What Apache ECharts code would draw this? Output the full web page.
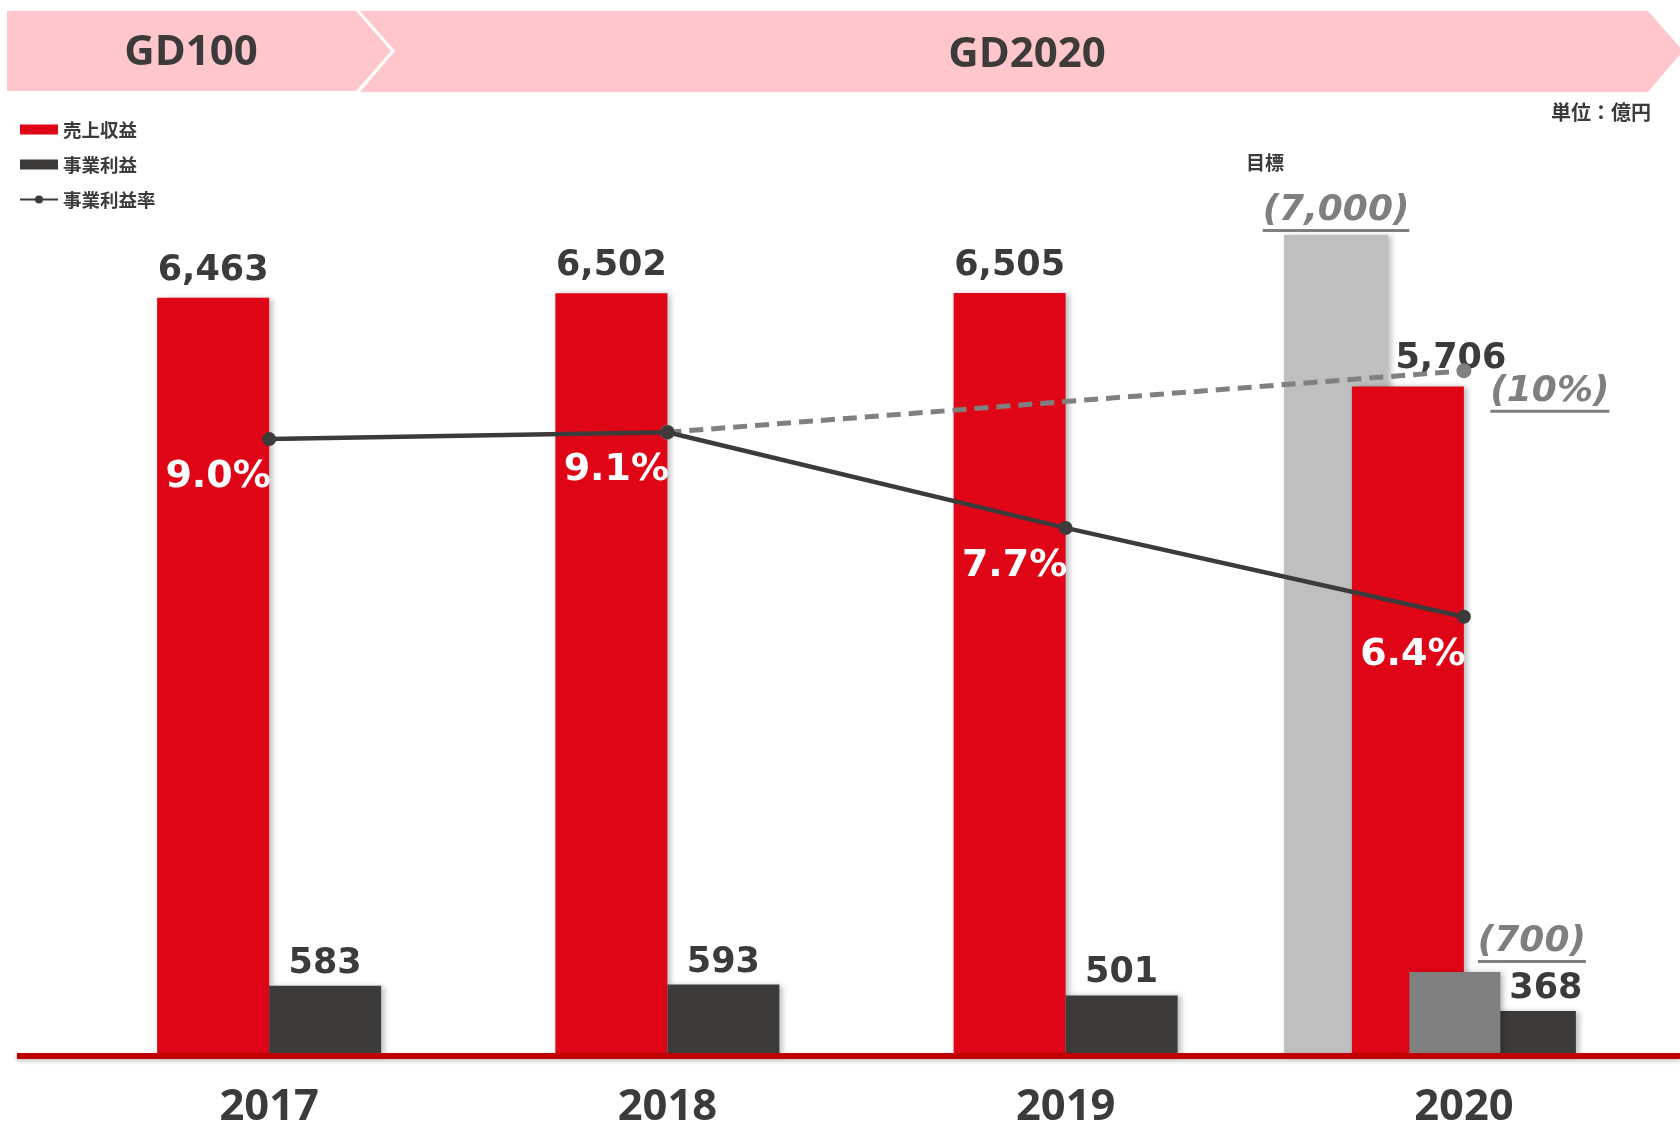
<!DOCTYPE html>
<html><head><meta charset="utf-8">
<script src="https://cdn.jsdelivr.net/npm/echarts@6/dist/echarts.min.js"></script>
<style>html,body{margin:0;padding:0;background:#fff}#c{width:1680px;height:1122px}</style>
</head><body><div id="c"></div>
<script>
// ---- data ----
const categories = ['2017', '2018', '2019', '2020'];
const sales = [6463, 6502, 6505, 5706];          // 売上収益
const profit = [583, 593, 501, 368];             // 事業利益
const profitRate = [9.0, 9.1, 7.7, 6.4];         // 事業利益率 (%)
const salesTarget = [[3, 7000]];                 // 目標 売上収益 (2020)
const profitTarget = [[3, 700]];                 // 目標 事業利益 (2020)
const rateTargetValue = 10;                      // 目標 事業利益率 (2020)
const phases = ['GD100', 'GD2020'];
const unitLabel = '単位：億円';
const targetCaption = '目標';
const seriesNames = ['売上収益', '事業利益', '事業利益率'];

// ---- styles ----
const DARK = '#3d3a3a', RED = '#E00516', GRAY1 = '#BFBFBF', GRAY2 = '#808080', TGRAY = '#7f7f7f';
const numFont = 'DejaVu Sans';
const tFont = 'italic bold 36px "DejaVu Sans"';
const shadow = { shadowBlur: 6, shadowOffsetX: 3, shadowOffsetY: 1, shadowColor: 'rgba(0,0,0,0.28)' };

const mctx = document.createElement('canvas').getContext('2d');
function measure(text, font) { mctx.font = font; return mctx.measureText(text).width; }
const fmt = v => v.toLocaleString('en-US');

function targetBar(cfg) {
  return function (params, api) {
    const i = api.value(0), v = api.value(1);
    const p0 = api.coord([i, 0]), p1 = api.coord([i, v]);
    const band = api.size([1, 0])[0];
    const cx = p0[0] + cfg.dx * band, w = cfg.w * band;
    const text = '(' + fmt(v) + ')';
    const tw = measure(text, tFont);
    const lx = cx + cfg.lx, ly = p1[1] + cfg.ly;
    const children = [
      { type: 'rect', shape: { x: cx - w / 2, y: p1[1], width: w, height: p0[1] - p1[1] },
        style: Object.assign({ fill: cfg.color }, shadow) },
      { type: 'text', style: { text, x: lx, y: ly, align: 'center', verticalAlign: 'middle', font: tFont, fill: TGRAY } },
      { type: 'rect', shape: { x: lx - tw / 2, y: ly + cfg.ul, width: tw, height: 3 }, style: { fill: TGRAY } }
    ];
    if (cfg.caption) {
      children.push({ type: 'text', style: { text: cfg.caption, x: cx + cfg.capX, y: p1[1] + cfg.capY,
        align: 'center', verticalAlign: 'middle', font: 'bold 19px "Noto Sans CJK JP"', fill: DARK } });
    }
    return { type: 'group', children };
  };
}

function rateTargetLabel(params, api) {
  const i = api.value(0), v = api.value(1);
  const p = api.coord([i, v]);
  const text = '(' + v + '%)';
  const tw = measure(text, tFont);
  const lx = p[0] + 86, ly = p[1] + 21;
  return { type: 'group', children: [
    { type: 'text', style: { text, x: lx, y: ly, align: 'center', verticalAlign: 'middle', font: tFont, fill: TGRAY } },
    { type: 'rect', shape: { x: lx - tw / 2, y: ly + 18, width: tw, height: 3 }, style: { fill: TGRAY } }
  ] };
}

const rateTargetLine = categories.map((c, i) => i === 1 ? profitRate[1] : (i === 3 ? rateTargetValue : '-'));

const chart = echarts.init(document.getElementById('c'), null, { renderer: 'canvas' });
chart.setOption({
  animation: false,
  backgroundColor: '#fff',
  grid: { left: 70, right: 17, top: 118, bottom: 68, containLabel: false, outerBoundsMode: 'none' },
  legend: {
    orient: 'vertical', left: 19, top: 119, padding: 0, itemWidth: 38, itemHeight: 10, itemGap: 14,
    selectedMode: false,
    textStyle: { fontFamily: 'Noto Sans CJK JP', fontWeight: 'bold', fontSize: 18.5, color: DARK, lineHeight: 21 },
    data: [{ name: seriesNames[0], icon: 'rect' }, { name: seriesNames[1], icon: 'rect' }, seriesNames[2]]
  },
  xAxis: {
    type: 'category', data: categories,
    axisLine: { show: false }, axisTick: { show: false },
    axisLabel: { margin: 32, fontFamily: 'Open Sans', fontWeight: 'bold', fontSize: 43.5, color: DARK, lineHeight: 44 }
  },
  yAxis: [
    { type: 'value', min: 0, max: 8000, show: false },
    { type: 'value', min: 0, max: 13.7, show: false }
  ],
  graphic: [
    { type: 'polygon', shape: { points: [[7, 11], [356, 11], [391, 51], [356, 91], [7, 91]] }, style: { fill: '#FFC7CC' }, z: 0 },
    { type: 'polygon', shape: { points: [[360, 11], [1648, 11], [1683, 51], [1648, 92], [360, 92], [395, 51]] }, style: { fill: '#FFC7CC' }, z: 0 },
    { type: 'text', x: 191, y: 53, style: { text: phases[0], align: 'center', verticalAlign: 'middle', font: 'bold 42px "Open Sans"', fill: DARK }, z: 1 },
    { type: 'text', x: 1027, y: 55, style: { text: phases[1], align: 'center', verticalAlign: 'middle', font: 'bold 42px "Open Sans"', fill: DARK }, z: 1 },
    { type: 'text', x: 1651, y: 112, style: { text: unitLabel, align: 'right', verticalAlign: 'middle', font: 'bold 20px "Noto Sans CJK JP"', fill: DARK }, z: 1 },
    { type: 'rect', shape: { x: 17, y: 1053, width: 1663, height: 6 },
      style: { fill: '#C00000', shadowBlur: 4, shadowOffsetY: 2, shadowColor: 'rgba(0,0,0,0.25)' }, z: 50 }
  ],
  series: [
    { name: 'target-sales', type: 'custom', data: salesTarget, renderItem: targetBar({
        dx: -0.321, w: 0.261, color: GRAY1, lx: 0, ly: -24, ul: 18, caption: targetCaption, capX: -71, capY: -72 }),
      z: 1, silent: true },
    { name: seriesNames[0], type: 'bar', barWidth: 112, barGap: '0%',
      data: sales.map((v, i) => i === 3 ? { value: v, label: { offset: [43, 0] } } : v),
      itemStyle: Object.assign({ color: RED }, shadow),
      label: { show: true, position: 'top', distance: 7, fontFamily: numFont, fontWeight: 'bold', fontSize: 35,
        lineHeight: 40, color: DARK, formatter: p => fmt(p.value) }, z: 2 },
    { name: seriesNames[1], type: 'bar', barWidth: 112, barGap: '0%',
      data: profit.map((v, i) => i === 3 ? { value: v, label: { offset: [26, 0] } } : v),
      itemStyle: Object.assign({ color: DARK }, shadow),
      label: { show: true, position: 'top', distance: 2, fontFamily: numFont, fontWeight: 'bold', fontSize: 35,
        lineHeight: 40, color: DARK, formatter: p => fmt(p.value) }, z: 2 },
    { name: 'target-profit', type: 'custom', data: profitTarget, renderItem: targetBar({
        dx: -0.0226, w: 0.2285, color: GRAY2, lx: 77, ly: -30, ul: 18 }),
      z: 3, silent: true },
    { name: 'target-rate', type: 'line', yAxisIndex: 1, data: rateTargetLine, connectNulls: true,
      symbol: 'circle', symbolSize: 15, showAllSymbol: true,
      lineStyle: { color: GRAY2, width: 5, type: [14, 8] }, itemStyle: { color: GRAY2 }, z: 4, silent: true },
    { name: 'target-rate-label', type: 'custom', yAxisIndex: 1, data: [[3, rateTargetValue]], renderItem: rateTargetLabel, z: 4, silent: true },
    { name: seriesNames[2], type: 'line', yAxisIndex: 1, data: profitRate,
      symbol: 'circle', symbolSize: 14, showAllSymbol: true,
      lineStyle: { color: DARK, width: 4.5 }, itemStyle: { color: DARK },
      label: { show: true, position: 'bottom', distance: 12, offset: [-51, 0], fontFamily: numFont, fontWeight: 'bold',
        fontSize: 38, color: '#ffffff', formatter: p => p.value.toFixed(1) + '%' }, z: 5 }
  ]
});
</script>
</body></html>
